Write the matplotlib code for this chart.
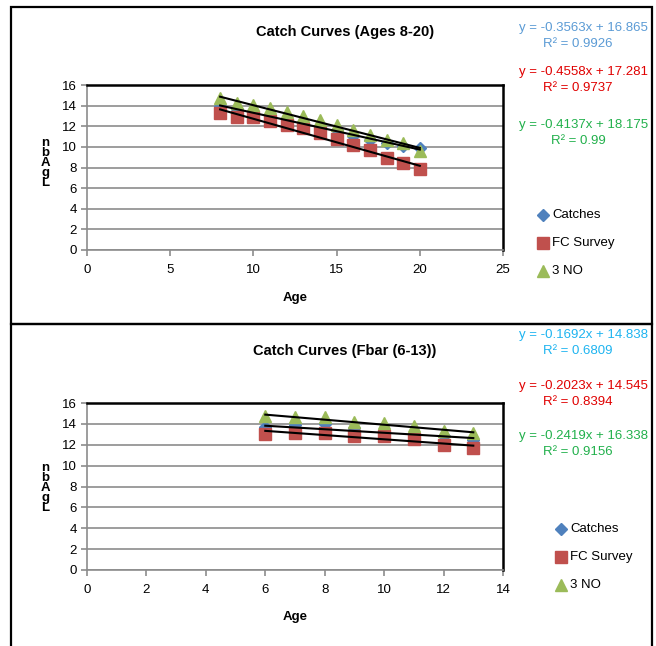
import numpy as np
import matplotlib
matplotlib.use("Agg")
import matplotlib.pyplot as plt
from matplotlib.patches import Rectangle

plt.rcParams['font.family'] = ['Liberation Sans', 'DejaVu Sans']

# top panel: ages 8-20
ages_top = [8, 9, 10, 11, 12, 13, 14, 15, 16, 17, 18, 19, 20]
catches_top = [14.0, 13.7, 13.4, 13.0, 12.6, 12.3, 11.9, 11.6, 11.1, 10.7, 10.4, 10.1, 9.9]
fc_top = [13.25, 12.9, 12.85, 12.5, 12.15, 11.8, 11.3, 10.8, 10.2, 9.7, 8.9, 8.4, 7.85]
no3_top = [14.7, 14.3, 14.1, 13.8, 13.4, 13.0, 12.6, 12.1, 11.6, 11.2, 10.7, 10.4, 9.6]
fits_top = [(-0.3563, 16.865, 0.9926), (-0.4558, 17.281, 0.9737), (-0.4137, 18.175, 0.99)]

# bottom panel: Fbar ages 6-13
ages_bot = [6, 7, 8, 9, 10, 11, 12, 13]
catches_bot = [13.7, 13.9, 14.0, 13.6, 13.3, 13.0, 12.8, 12.5]
fc_bot = [13.0, 13.1, 13.15, 12.8, 12.8, 12.55, 12.0, 11.65]
no3_bot = [14.8, 14.7, 14.7, 14.2, 14.1, 13.8, 13.3, 13.1]
fits_bot = [(-0.1692, 14.838, 0.6809), (-0.2023, 14.545, 0.8394), (-0.2419, 16.338, 0.9156)]

names = ["Catches", "FC Survey", "3 NO"]
markers = ["D", "s", "^"]
colors = ["#4F81BD", "#C0504D", "#9BBB59"]
msizes = [6, 8.5, 9]

W, H = 656, 646
fig = plt.figure(figsize=(W / 100, H / 100), dpi=100)


def fx(px):
    return px / W


def fy(py):
    return 1 - py / H


def panel(box, plot_tb, title_y, age_y, ylab_y, title, ages, series, fits, xmax, xstep,
          eq_colors, eq_y, leg_x, leg_y):
    # outer chart box
    b0, b1 = box
    fig.add_artist(Rectangle((fx(11), fy(b1)), fx(641), (b1 - b0) / H, fill=False,
                             edgecolor="black", linewidth=1.6, transform=fig.transFigure))
    p0, p1 = plot_tb
    ax = fig.add_axes([fx(87), fy(p1), fx(416), (p1 - p0) / H])
    for i, ys in enumerate(series):
        ax.plot(ages, ys, linestyle="none", marker=markers[i], color=colors[i],
                markersize=msizes[i], label=names[i], zorder=3)
    for slope, icpt, _ in fits:
        xs = np.array([ages[0], ages[-1]])
        ax.plot(xs, slope * xs + icpt, color="black", linewidth=1.5, zorder=4)
    ax.set_xlim(0, xmax)
    ax.set_ylim(0, 16)
    ax.set_xticks(np.arange(0, xmax + 0.1, xstep))
    ax.set_yticks(np.arange(0, 17, 2))
    ax.grid(axis="y", color="#8c8c8c", linewidth=1.2)
    ax.set_axisbelow(True)
    for s in ["left", "bottom"]:
        ax.spines[s].set_color("#8c8c8c")
        ax.spines[s].set_linewidth(1.2)
    for s in ["top", "right"]:
        ax.spines[s].set_color("black")
        ax.spines[s].set_linewidth(1.8)
    ax.tick_params(colors="#8c8c8c", labelcolor="black", labelsize=9.5, length=4, width=1.2)
    ax.tick_params(axis="x", pad=6)
    fig.text(fx(345), fy(title_y), title, ha="center", va="center",
             fontsize=10.5, fontweight="bold")
    fig.text(fx(295), fy(age_y), "Age", ha="center", va="center",
             fontsize=9.5, fontweight="bold")
    # stacked vertical axis label
    fig.text(fx(45), fy(ylab_y), "n\nb\nA\ng\nL", ha="center", va="center",
             fontsize=9.5, fontweight="bold", linespacing=0.8)
    for (slope, icpt, r2), c, yy in zip(fits, eq_colors, eq_y):
        fig.text(fx(648), fy(yy), f"y = {slope:.4f}x + {icpt:.3f}", ha="right",
                 va="center", color=c, fontsize=9.5)
        fig.text(fx(578), fy(yy + 16), f"R\u00b2 = {r2:g}", ha="center",
                 va="center", color=c, fontsize=9.5)
    handles, labels = ax.get_legend_handles_labels()
    for k, (h, lab) in enumerate(zip(handles, labels)):
        fig.text(fx(leg_x), fy(leg_y + 28 * k), lab, ha="left", va="center", fontsize=9.5)
        fig.add_artist(plt.Line2D([fx(leg_x - 9)], [fy(leg_y + 28 * k)], marker=markers[k],
                                  color=colors[k], markersize=msizes[k] * 0.95,
                                  linestyle="none", transform=fig.transFigure))
    return ax


panel((7, 324), (85, 250), 32, 298, 163, "Catch Curves (Ages 8-20)", ages_top,
      [catches_top, fc_top, no3_top], fits_top, 25, 5,
      ["#5B9BD5", "#E00000", "#21B04B"], [28, 72, 125], 552, 215)
panel((324, 652), (403, 570), 351, 617, 488, "Catch Curves (Fbar (6-13))", ages_bot,
      [catches_bot, fc_bot, no3_bot], fits_bot, 14, 2,
      ["#1EB4F0", "#E00000", "#21B04B"], [335, 386, 436], 570, 529)

fig.savefig("out.png", dpi=100)
